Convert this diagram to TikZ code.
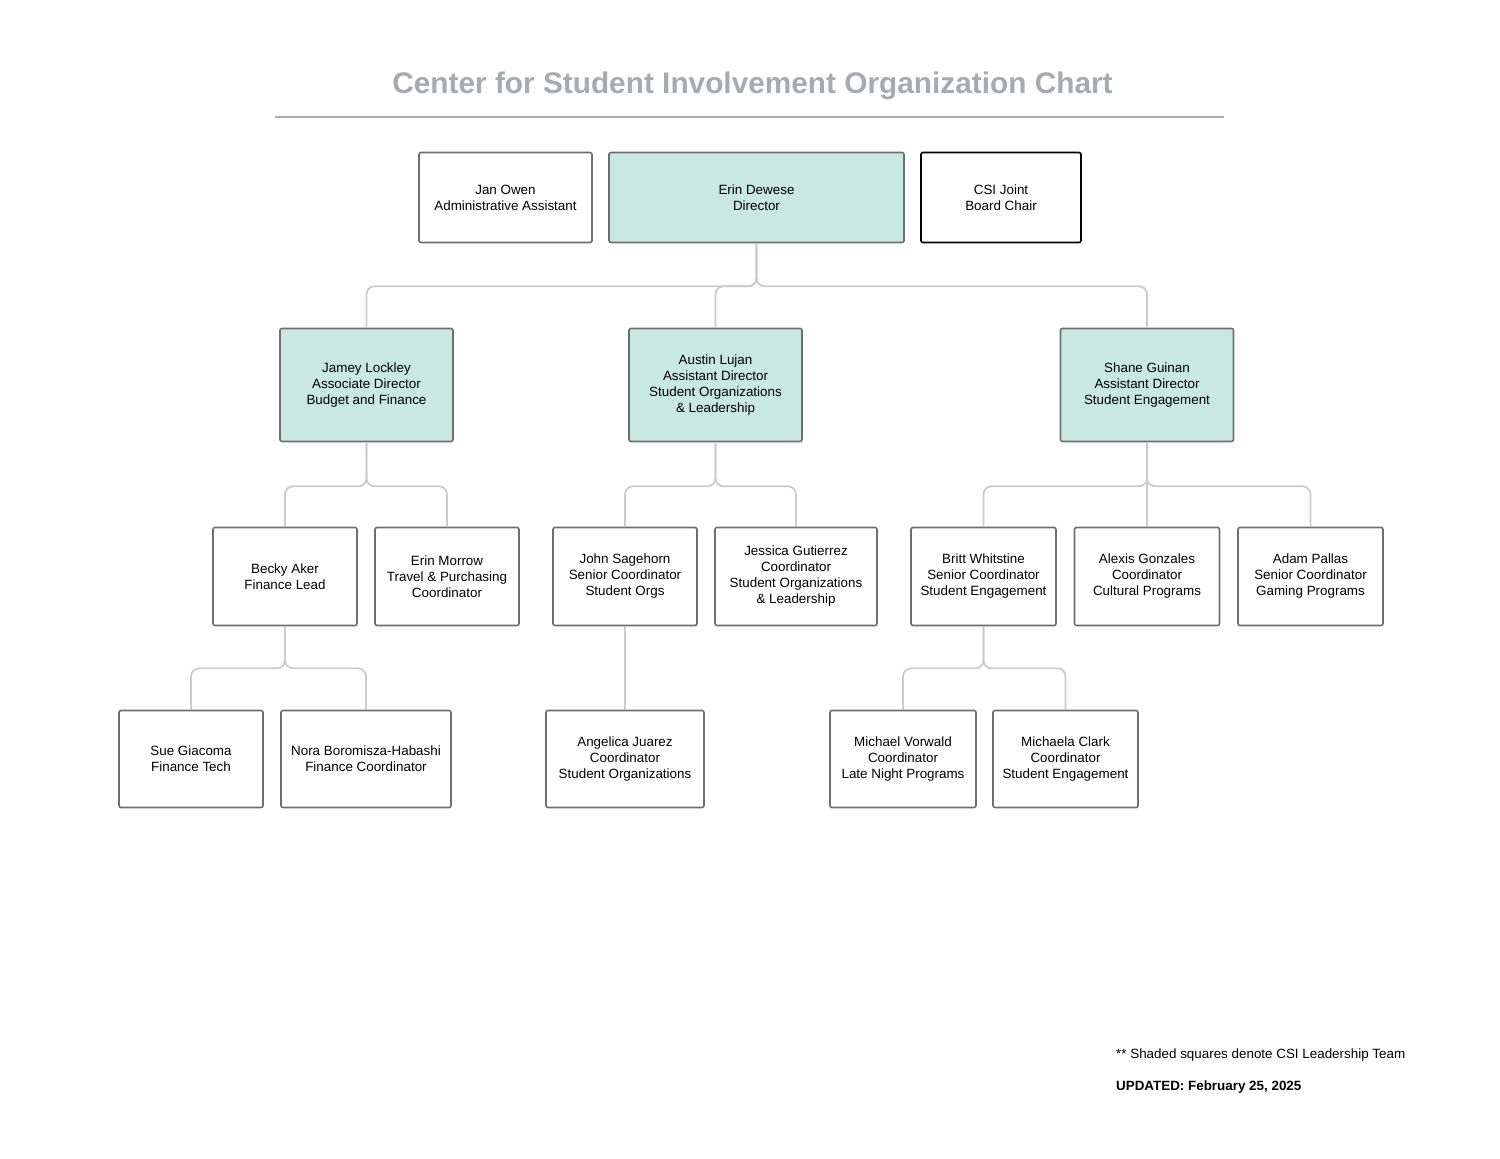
\documentclass[tikz,border=0pt]{standalone}
\usepackage{fontspec}
\setmainfont{Liberation Sans}
\usepackage{tikz}
\usetikzlibrary{positioning}
\definecolor{boxline}{HTML}{6E6E6E}
\definecolor{leadfill}{HTML}{C9E8E1}
\definecolor{linkgray}{HTML}{CBCBCB}
\definecolor{titlegray}{HTML}{A6AAB1}
\tikzset{person/.style={draw=boxline,line width=1.6pt,rounded corners=2pt,fill=white,
    align=center,inner sep=0pt,font=\fontsize{13.4}{16}\selectfont},
  lead/.style={person,fill=leadfill},
  link/.style={draw=linkgray,line width=1.8pt,rounded corners=8pt}}

\begin{document}
\begin{tikzpicture}[x=1pt,y=-1pt]
\useasboundingbox (0,0) rectangle (1500,1159);

\node[font=\fontsize{29.8}{34}\selectfont\bfseries,text=titlegray] (title) at (752.5,86) {Center for Student Involvement Organization Chart};
\draw[titlegray,line width=1.6pt] (275,117) -- (1224,117);

% top row
\node[person,minimum width=173pt,minimum height=90pt] (jan) at (505.5,197.5) {Jan Owen\\Administrative Assistant};
\node[lead,minimum width=295pt,minimum height=90pt] (erin) at (756.5,197.5) {Erin Dewese\\Director};
\node[person,draw=black,minimum width=160pt,minimum height=90pt] (csi) at (1001,197.5) {CSI Joint\\Board Chair};

% assistant directors
\node[lead,minimum width=173pt,minimum height=113pt] (jamey) at (366.5,385) {Jamey Lockley\\Associate Director\\Budget and Finance};
\node[lead,minimum width=173pt,minimum height=113pt] (austin) at (715.5,385) {Austin Lujan\\Assistant Director\\Student Organizations\\\& Leadership};
\node[lead,minimum width=173pt,minimum height=113pt] (shane) at (1147,385) {Shane Guinan\\Assistant Director\\Student Engagement};

% coordinators
\node[person,minimum width=144pt,minimum height=98pt] (becky) at (285,576.5) {Becky Aker\\Finance Lead};
\node[person,minimum width=144pt,minimum height=98pt] (morrow) at (447,576.5) {Erin Morrow\\Travel \& Purchasing\\Coordinator};
\node[person,minimum width=144pt,minimum height=98pt] (john) at (625,576.5) {John Sagehorn\\Senior Coordinator\\Student Orgs};
\node[person,minimum width=162pt,minimum height=98pt] (jessica) at (796,576.5) {Jessica Gutierrez\\Coordinator\\Student Organizations\\\& Leadership};
\node[person,minimum width=145pt,minimum height=98pt] (britt) at (983.5,576.5) {Britt Whitstine\\Senior Coordinator\\Student Engagement};
\node[person,minimum width=145pt,minimum height=98pt] (alexis) at (1147,576.5) {Alexis Gonzales\\Coordinator\\Cultural Programs};
\node[person,minimum width=145pt,minimum height=98pt] (adam) at (1310.5,576.5) {Adam Pallas\\Senior Coordinator\\Gaming Programs};

% bottom row
\node[person,minimum width=144pt,minimum height=97pt] (sue) at (191,759) {Sue Giacoma\\Finance Tech};
\node[person,minimum width=170pt,minimum height=97pt] (nora) at (366,759) {Nora Boromisza-Habashi\\Finance Coordinator};
\node[person,minimum width=158pt,minimum height=97pt] (angelica) at (625,759) {Angelica Juarez\\Coordinator\\Student Organizations};
\node[person,minimum width=146pt,minimum height=97pt] (michael) at (903,759) {Michael Vorwald\\Coordinator\\Late Night Programs};
\node[person,minimum width=145pt,minimum height=97pt] (michaela) at (1065.5,759) {Michaela Clark\\Coordinator\\Student Engagement};

% connectors
\foreach \c in {jamey,austin,shane}
  \draw[link] (erin.south) -- ++(0,43) -| (\c.north);
\foreach \c in {becky,morrow}
  \draw[link] (jamey.south) -- ++(0,44) -| (\c.north);
\foreach \c in {john,jessica}
  \draw[link] (austin.south) -- ++(0,44) -| (\c.north);
\foreach \c in {britt,adam}
  \draw[link] (shane.south) -- ++(0,44) -| (\c.north);
\draw[link] (shane.south) -- (alexis.north);
\foreach \c in {sue,nora}
  \draw[link] (becky.south) -- ++(0,42) -| (\c.north);
\draw[link] (john.south) -- (angelica.north);
\foreach \c in {michael,michaela}
  \draw[link] (britt.south) -- ++(0,42) -| (\c.north);

% notes
\node[anchor=base west,inner sep=0pt,font=\fontsize{13.4}{16}\selectfont] (note) at (1116,1058) {** Shaded squares denote CSI Leadership Team};
\node[anchor=base west,inner sep=0pt,font=\fontsize{13.4}{16}\selectfont\bfseries] (updated) at (1116,1090) {UPDATED: February 25, 2025};
\end{tikzpicture}
\end{document}
